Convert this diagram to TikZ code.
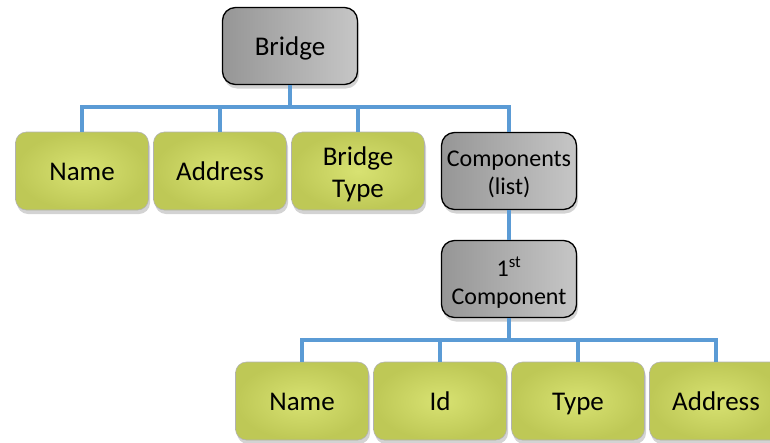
\documentclass[tikz,border=0pt]{standalone}
\usepackage{fontspec}
\setmainfont{Carlito}
\usetikzlibrary{shadows}
\definecolor{linkblue}{HTML}{5B9BD5}
\newcommand{\mystrut}{\rule[-6pt]{0pt}{31pt}}
\tikzset{
  greenbox/.style={rectangle, rounded corners=11pt, minimum width=133pt, minimum height=78pt,
    draw=black!30, line width=0.6pt, inner color={rgb,255:red,216;green,226;blue,114}, outer color={rgb,255:red,190;green,200;blue,86},
    drop shadow={shadow xshift=1.5pt, shadow yshift=-4pt, opacity=0.35},
    font=\fontsize{27}{32}\selectfont, align=center, text=black},
  graybox/.style={rectangle, rounded corners=13pt, minimum width=135pt, minimum height=77pt,
    draw=black, line width=1.3pt, left color={rgb,255:red,150;green,150;blue,150}, right color={rgb,255:red,198;green,198;blue,198},
    drop shadow={shadow xshift=1.5pt, shadow yshift=-4pt, opacity=0.35},
    align=center, text=black},
  link/.style={draw=linkblue, line width=3.5pt}
}
\begin{document}
\begin{tikzpicture}[x=1pt,y=-1pt]
\useasboundingbox (0,0) rectangle (770,442);
\clip (0,0) rectangle (770,442);
\coordinate (bar1) at (290,107);
\coordinate (bar2) at (509,340);
\node[graybox, font=\fontsize{27}{32}\selectfont] (bridge) at (290,46) {Bridge\mystrut};
\node[greenbox] (name1) at (82,171) {Name\mystrut};
\node[greenbox] (addr1) at (220,171) {Address\mystrut};
\node[greenbox] (btype) at (358,171) {Bridge\rule{0pt}{26pt}\\Type};
\node[graybox, font=\fontsize{24}{28}\selectfont] (comps) at (509,171) {Components\rule{0pt}{23pt}\\(list)};
\node[graybox, font=\fontsize{24}{28}\selectfont] (comp1) at (509,279) {1\textsuperscript{st}\rule{0pt}{27pt}\\Component};
\node[greenbox] (name2) at (302,401) {Name\mystrut};
\node[greenbox] (id2) at (440,401) {Id\mystrut};
\node[greenbox] (type2) at (578,401) {Type\mystrut};
\node[greenbox] (addr2) at (716,401) {Address\mystrut};
\draw[link] (bridge.south) -- (bar1);
\draw[link] (name1.north) -- (name1.north |- bar1) -- (comps.north |- bar1) -- (comps.north);
\draw[link] (addr1.north) -- (addr1.north |- bar1);
\draw[link] (btype.north) -- (btype.north |- bar1);
\draw[link] (comps.south) -- (comp1.north);
\draw[link] (comp1.south) -- (bar2);
\draw[link] (name2.north) -- (name2.north |- bar2) -- (addr2.north |- bar2) -- (addr2.north);
\draw[link] (id2.north) -- (id2.north |- bar2);
\draw[link] (type2.north) -- (type2.north |- bar2);
\end{tikzpicture}
\end{document}
